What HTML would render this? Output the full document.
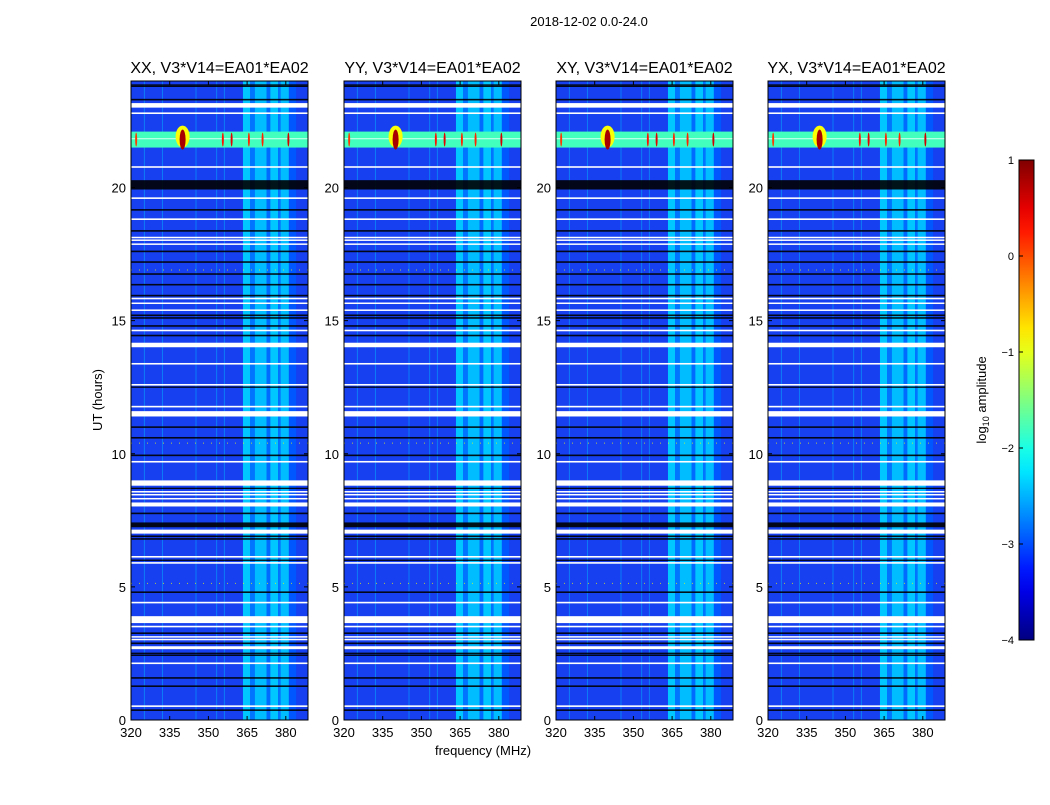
<!DOCTYPE html>
<html><head><meta charset="utf-8"><style>
body{margin:0;background:#fff}
svg text{font-family:"Liberation Sans",sans-serif;fill:#000}
</style></head><body>
<svg id="chart" width="1050" height="800" viewBox="0 0 1050 800" xmlns="http://www.w3.org/2000/svg">
<rect width="1050" height="800" fill="#fff"/>
<text x="589" y="26" font-size="13" text-anchor="middle">2018-12-02 0.0-24.0</text>
<text x="483" y="755" font-size="13" text-anchor="middle">frequency (MHz)</text>
<text transform="translate(102,400) rotate(-90)" font-size="13" text-anchor="middle">UT (hours)</text>
<g id="panels"></g>
<g id="cbar"></g>
</svg>
<script>
const panelTitles=["XX, V3*V14=EA01*EA02","YY, V3*V14=EA01*EA02","XY, V3*V14=EA01*EA02","YX, V3*V14=EA01*EA02"];
const xTicks=[320,335,350,365,380];
const yTicks=[0,5,10,15,20];
const backgroundLevel=-3.1;
const bandStart=[363.4,366.2,368.0,372.6,374.0,377.0,378.0,381.2];
const bandEnd  =[366.2,368.0,372.6,374.0,377.0,378.0,381.2,384.0];
const bandLevel=[-2.4,-2.8,-2.45,-2.85,-2.4,-2.8,-2.45,-2.95];
const hotStart=21.5, hotEnd=22.1, hotLevel=-1.8;
const peakFreqs=[322,340,355.6,359,365.7,371,381];
const peakLevels=[0.3,1.0,0.5,0.7,0.4,0.4,0.8];
const vLineFreqs=[325,332,345,353,356];
const whiteStart=[23.0,22.76,20.74,19.57,18.78,18.1,18.0,17.85,15.8,15.63,15.37,14.6,14.0,13.35,12.56,11.74,11.4,9.67,8.8,8.55,8.44,8.29,8.02,7.0,6.1,5.87,4.38,3.64,3.48,3.1,3.0,2.66,2.1,0.49];
const whiteEnd  =[23.17,22.82,20.8,19.63,18.84,18.15,18.05,17.9,15.86,15.68,15.42,14.66,14.17,13.41,12.62,11.8,11.6,9.73,9.0,8.6,8.49,8.34,8.17,7.15,6.16,5.93,4.44,3.9,3.54,3.15,3.05,2.77,2.16,0.55];
const blackHour=[23.85,23.8,23.3,20.1,19.16,18.37,17.6,17.2,16.75,16.35,15.94,15.2,15.1,14.8,14.44,12.5,11.0,10.6,9.94,8.7,7.76,7.33,6.9,6.8,6.0,4.8,3.26,2.88,2.5,2.43,1.58,1.27,0.37];
const blackThick=[0.05,0.05,0.06,0.35,0.06,0.06,0.06,0.06,0.06,0.06,0.06,0.06,0.06,0.06,0.06,0.05,0.06,0.06,0.06,0.05,0.06,0.18,0.06,0.06,0.05,0.06,0.06,0.06,0.06,0.05,0.06,0.06,0.06];
const dottedHours=[16.9,10.4,5.13];
const cbTicks=[1,0,-1,-2,-3,-4];

const NS="http://www.w3.org/2000/svg";
function mk(tag,attrs,parent){const e=document.createElementNS(NS,tag);for(const k in attrs)e.setAttribute(k,attrs[k]);parent.appendChild(e);return e;}
function jet(v){
  let t=(v+4)/5; t=Math.max(0,Math.min(1,t));
  const r=Math.max(0,Math.min(1,1.5-Math.abs(4*t-3)));
  const g=Math.max(0,Math.min(1,1.5-Math.abs(4*t-2)));
  const b=Math.max(0,Math.min(1,1.5-Math.abs(4*t-1)));
  return `rgb(${Math.round(r*255)},${Math.round(g*255)},${Math.round(b*255)})`;
}
const lefts=[131,344,556,768], W=177, yTop=81, yBot=720;
const fMin=320, pxPerMHz=2.58;
const hMax=24;
const panels=document.getElementById('panels');
lefts.forEach((L,pi)=>{
  const xs=f=>L+(f-fMin)*pxPerMHz;
  const ys=h=>yBot-(h/hMax)*(yBot-yTop);
  const g=mk('g',{},panels);
  
  
  const cp=mk('clipPath',{id:'cp'+pi},g); mk('rect',{x:L,y:yTop,width:W,height:yBot-yTop},cp);
  const d=mk('g',{'clip-path':`url(#cp${pi})`},g);
  mk('rect',{x:L,y:yTop,width:W,height:yBot-yTop,fill:'rgb(22,64,240)'},d);
  vLineFreqs.forEach(f=>{const l=mk('rect',{x:xs(f),y:yTop,width:1,height:yBot-yTop,fill:jet(-2.4),opacity:0.45},d);
    
    });
  bandStart.forEach((f,i)=>{const r=mk('rect',{x:xs(f),y:yTop,width:xs(bandEnd[i])-xs(f),height:yBot-yTop,fill:jet(bandLevel[i])},d);
    
    });
  const hb=mk('rect',{x:L,y:ys(hotEnd),width:W,height:ys(hotStart)-ys(hotEnd),fill:jet(hotLevel)},d);
  
  
  mk('rect',{x:L,y:ys(21.85),width:W,height:1,fill:'#fff',opacity:0.8},d);
  peakFreqs.forEach((f,i)=>{
    const big=peakLevels[i]>=0.9, cx=xs(f), cy=ys((hotStart+hotEnd)/2);
    if(big){mk('ellipse',{cx,cy:cy-3,rx:7,ry:11,fill:jet(-0.9)},d);}
    const e=mk('ellipse',{cx,cy,rx:big?3:1,ry:big?10:7,fill:jet(peakLevels[i]-0.2)},d);
    
    
  });
  dottedHours.forEach(h=>{mk('line',{x1:L,x2:L+W,y1:ys(h),y2:ys(h),stroke:jet(-0.9),'stroke-width':1,'stroke-dasharray':'1 7',opacity:0.7},d);});
  whiteStart.forEach((s,i)=>{const r=mk('rect',{x:L,y:ys(whiteEnd[i]),width:W,height:Math.max(1.5,ys(s)-ys(whiteEnd[i])),fill:'#fff'},d);
    
    });
  blackHour.forEach((h,i)=>{const th=blackThick[i]*(yBot-yTop)/hMax;const r=mk('rect',{x:L,y:ys(h)-th/2,width:W,height:Math.max(1.2,th),fill:'#000',opacity:0.9},d);
    
    });
  mk('rect',{x:L,y:yTop,width:W,height:yBot-yTop,fill:'none',stroke:'#000','stroke-width':1},g);
  const t=mk('text',{x:L+W/2,y:73,'font-size':16,'text-anchor':'middle'},g); t.textContent=panelTitles[pi];
  
  
  xTicks.forEach(v=>{const x=xs(v);
    mk('line',{x1:x,x2:x,y1:yBot,y2:yBot-4,stroke:'#000'},g);mk('line',{x1:x,x2:x,y1:yTop,y2:yTop+4,stroke:'#000'},g);
    const tx=mk('text',{x,y:yBot+17,'font-size':13,'text-anchor':'middle'},g);tx.textContent=v;
    
    });
  yTicks.forEach(v=>{const y=ys(v);
    mk('line',{x1:L,x2:L+4,y1:y,y2:y,stroke:'#000'},g);mk('line',{x1:L+W,x2:L+W-4,y1:y,y2:y,stroke:'#000'},g);
    const ty=mk('text',{x:L-5,y:y+5,'font-size':13,'text-anchor':'end'},g);ty.textContent=v;
    
    });
});
const cb=document.getElementById('cbar');


const cbX=1019,cbW=15,cbTop=160,cbBot=640;
const defs=mk('defs',{},cb);const lg=mk('linearGradient',{id:'jetg',x1:0,y1:1,x2:0,y2:0},defs);
for(let i=0;i<=20;i++){const v=-4+5*i/20;mk('stop',{offset:i/20,'stop-color':jet(v)},lg);}
mk('rect',{x:cbX,y:cbTop,width:cbW,height:cbBot-cbTop,fill:'url(#jetg)',stroke:'#000'},cb);
cbTicks.forEach(v=>{const y=cbBot-(v+4)/5*(cbBot-cbTop);
  mk('line',{x1:cbX,x2:cbX+4,y1:y,y2:y,stroke:'#000'},cb);
  const t=mk('text',{x:cbX-5,y:y+4,'font-size':11,'text-anchor':'end'},cb);t.textContent=(v<0?'\u2212'+(-v):v);
  
  });
const cl=mk('text',{transform:'translate(986,400) rotate(-90)','font-size':13,'text-anchor':'middle'},cb);


cl.appendChild(document.createTextNode('log'));
const sub=mk('tspan',{'font-size':9,dy:3},cl); sub.textContent='10';
const rest=mk('tspan',{dy:-3},cl); rest.textContent=' amplitude';
</script>
</body></html>
